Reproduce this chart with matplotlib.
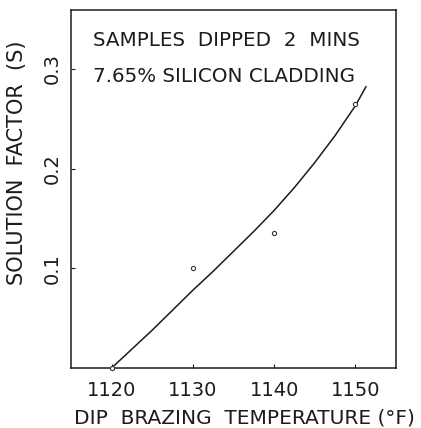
import numpy as np
import matplotlib.pyplot as plt

# measured solution factor at each dip brazing temperature
temp = [1120, 1130, 1140, 1150]
factor = [0.0, 0.100, 0.135, 0.265]

# hand-drawn trend curve through the data
curve_t = [1120, 1122.5, 1125, 1127.5, 1130, 1132.5, 1135, 1137.5,
           1140, 1142.5, 1145, 1147.5, 1150, 1151.3]
curve_s = [0.000, 0.019, 0.038, 0.058, 0.078, 0.097, 0.117, 0.137,
           0.158, 0.181, 0.206, 0.233, 0.263, 0.282]

xticks = [1120, 1130, 1140, 1150]
yticks = [0.1, 0.2, 0.3]

ink = '#1c1c1c'
plt.rcParams['font.family'] = 'DejaVu Sans'
fig = plt.figure(figsize=(4.21, 4.28), dpi=100)
ax = fig.add_axes([71 / 421, 60 / 428, 325 / 421, 358 / 428])

ax.plot(curve_t, curve_s, color=ink, lw=1.1)
ax.plot(temp, factor, 'o', ms=3, mfc='white', mec='#333333', mew=0.8,
        clip_on=False, zorder=3)

ax.set_xlim(1115, 1155)
ax.set_ylim(0, 0.359)
ax.set_xticks(xticks)
ax.set_xticklabels([str(t) for t in xticks])
ax.set_yticks(yticks)
ax.set_yticklabels(['0.1', '0.2', '0.3'], rotation=90, va='center')
ax.tick_params(direction='in', length=3, width=0.8, labelsize=14,
               colors=ink)
ax.tick_params(axis='x', pad=9)
ax.tick_params(axis='y', pad=7)
for s in ax.spines.values():
    s.set_linewidth(1.1)
    s.set_color(ink)

ax.set_xlabel('DIP  BRAZING  TEMPERATURE (°F)', fontsize=14.5, color=ink)
ax.set_ylabel('SOLUTION  FACTOR  (S)', fontsize=15, color=ink)
ax.xaxis.set_label_coords(0.535, -0.112)
ax.yaxis.set_label_coords(-0.135, 0.573)

ax.text(0.068, 0.915, 'SAMPLES  DIPPED  2  MINS', transform=ax.transAxes,
        fontsize=14.3, color=ink, va='center')
ax.text(0.068, 0.815, '7.65% SILICON CLADDING', transform=ax.transAxes,
        fontsize=14.3, color=ink, va='center')

fig.savefig('out.png', dpi=100)
